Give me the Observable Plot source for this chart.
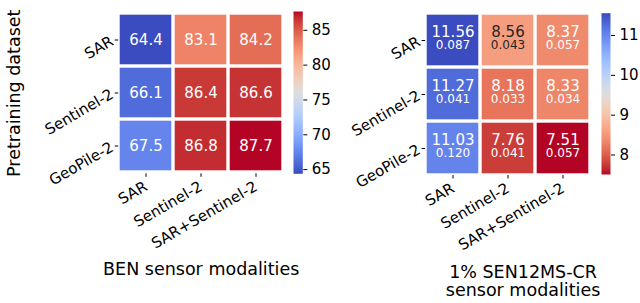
<!DOCTYPE html>
<html><head><meta charset="utf-8">
<script src="https://cdn.jsdelivr.net/npm/d3@7"></script>
<script src="https://cdn.jsdelivr.net/npm/@observablehq/plot@0.6"></script>
<style>
html,body{margin:0;padding:0;background:white;}
#root{position:relative;width:640px;height:303px;overflow:hidden;font-family:"DejaVu Sans";}
#root svg{position:absolute;left:0;top:0;}
</style></head><body><div id="root"></div>
<script>
// ---- data ----
const pretrainDatasets = ["SAR", "Sentinel-2", "GeoPile-2"];
const sensorModalities = ["SAR", "Sentinel-2", "SAR+Sentinel-2"];
const benScores = [[64.4, 83.1, 84.2], [66.1, 86.4, 86.6], [67.5, 86.8, 87.7]];
const senMeans = [[11.56, 8.56, 8.37], [11.27, 8.18, 8.33], [11.03, 7.76, 7.51]];
const senStds = [[0.087, 0.043, 0.057], [0.041, 0.033, 0.034], [0.120, 0.041, 0.057]];
const benTicks = [65, 70, 75, 80, 85];
const senTicks = [8, 9, 10, 11];
const benLabel = "BEN sensor modalities";
const senLabel = "1% SEN12MS-CR\nsensor modalities";
const yLabel = "Pretraining dataset";
// matplotlib "coolwarm" control colours
const coolwarmStops = [
  [59,76,192],[68,90,204],[77,104,215],[87,117,225],[98,130,234],[108,142,241],[119,154,247],[130,165,251],
  [141,176,254],[152,185,255],[163,194,255],[174,201,253],[184,208,249],[194,213,244],[204,217,238],[213,219,230],
  [221,221,221],[229,216,209],[236,211,197],[241,204,184],[245,196,172],[247,187,160],[247,177,148],[247,166,135],
  [244,154,123],[241,141,112],[236,127,99],[229,112,88],[222,96,77],[213,80,66],[203,62,56],[192,40,47],[180,4,38]
];

const cw = d3.piecewise(d3.interpolateRgb, coolwarmStops.map(c => `rgb(${c[0]},${c[1]},${c[2]})`));
const cwR = t => cw(1 - t);
function lum(color) {
  const c = d3.rgb(color);
  const f = v => { v /= 255; return v <= 0.03928 ? v / 12.92 : Math.pow((v + 0.055) / 1.055, 2.4); };
  return 0.2126 * f(c.r) + 0.7152 * f(c.g) + 0.0722 * f(c.b);
}
const ben = pretrainDatasets.flatMap((r, i) => sensorModalities.map((c, j) => ({row: r, col: c, value: benScores[i][j]})));
const sen = pretrainDatasets.flatMap((r, i) => sensorModalities.map((c, j) => ({row: r, col: c, value: senMeans[i][j], std: senStds[i][j]})));
const benMin = d3.min(ben, d => d.value), benMax = d3.max(ben, d => d.value);
const senMin = d3.min(sen, d => d.value), senMax = d3.max(sen, d => d.value);
ben.forEach(d => d.dark = lum(cw((d.value - benMin) / (benMax - benMin))) > 0.408);
sen.forEach(d => d.dark = lum(cwR((d.value - senMin) / (senMax - senMin))) > 0.408);

const FONT = "DejaVu Sans";
const common = {width: 640, height: 303, style: {background: "transparent", fontFamily: FONT, fontSize: "15px", color: "black"}};
const WHITE = "white", DARK = "#262626";

const benPlot = Plot.plot({
  ...common,
  marginLeft: 118.2, marginRight: 356.8, marginTop: 12.2, marginBottom: 129.7,
  x: {type: "band", domain: sensorModalities, padding: 0},
  y: {type: "band", domain: pretrainDatasets, padding: 0},
  color: {type: "linear", domain: [benMin, benMax], interpolate: cw},
  marks: [
    Plot.cell(ben, {x: "col", y: "row", fill: "value", inset: 1.7}),
    Plot.text(ben.filter(d => !d.dark), {x: "col", y: "row", text: d => d.value.toFixed(1), fill: WHITE, fontSize: 15}),
    Plot.text(ben.filter(d => d.dark), {x: "col", y: "row", text: d => d.value.toFixed(1), fill: DARK, fontSize: 15}),
    Plot.axisX({tickRotate: -30, tickSize: 3.5, tickPadding: 8, label: null, fontSize: 15}),
    Plot.axisY({tickRotate: -30, tickSize: 3.5, tickPadding: 3, label: null, fontSize: 15}),
    Plot.text([benLabel], {text: d => d, frameAnchor: "bottom", textAnchor: "middle", lineAnchor: "middle", dy: 95.3, fontSize: 17.5}),
    Plot.text([yLabel], {text: d => d, frameAnchor: "left", textAnchor: "middle", lineAnchor: "middle", rotate: -90, dx: -104.6, fontSize: 17.5})
  ]
});

const benBar = Plot.plot({
  ...common,
  marginLeft: 293, marginRight: 337.7, marginTop: 11, marginBottom: 129.7,
  x: {domain: [0, 1], axis: null},
  y: {domain: [benMin, benMax]},
  color: {type: "linear", domain: [benMin, benMax], interpolate: cw},
  marks: [
    Plot.raster({fill: (x, y) => y, x1: 0, x2: 1, y1: benMin, y2: benMax}),
    Plot.axisY({anchor: "right", ticks: benTicks, tickFormat: "d", tickSize: 4, tickPadding: 5, label: null, fontSize: 15})
  ]
});

const senPlot = Plot.plot({
  ...common,
  marginLeft: 425.1, marginRight: 49.2, marginTop: 12.3, marginBottom: 128,
  x: {type: "band", domain: sensorModalities, padding: 0},
  y: {type: "band", domain: pretrainDatasets, padding: 0},
  color: {type: "linear", domain: [senMin, senMax], interpolate: cwR},
  marks: [
    Plot.cell(sen, {x: "col", y: "row", fill: "value", inset: 1.7}),
    Plot.text(sen.filter(d => !d.dark), {x: "col", y: "row", text: d => d.value.toFixed(2), fill: WHITE, fontSize: 15, dy: -8.0}),
    Plot.text(sen.filter(d => d.dark), {x: "col", y: "row", text: d => d.value.toFixed(2), fill: DARK, fontSize: 15, dy: -8.0}),
    Plot.text(sen.filter(d => !d.dark), {x: "col", y: "row", text: d => d.std.toFixed(3), fill: WHITE, fontSize: 12, dy: 4.9}),
    Plot.text(sen.filter(d => d.dark), {x: "col", y: "row", text: d => d.std.toFixed(3), fill: DARK, fontSize: 12, dy: 4.9}),
    Plot.axisX({tickRotate: -30, tickSize: 3.5, tickPadding: 8, label: null, fontSize: 15}),
    Plot.axisY({tickRotate: -30, tickSize: 3.5, tickPadding: 3, label: null, fontSize: 15}),
    Plot.text([senLabel], {text: d => d, frameAnchor: "bottom", textAnchor: "middle", lineAnchor: "middle", dx: 14.6, dy: 105.75, fontSize: 17.5, lineHeight: 1.057})
  ]
});

const senBar = Plot.plot({
  ...common,
  marginLeft: 601, marginRight: 30, marginTop: 12.7, marginBottom: 129,
  x: {domain: [0, 1], axis: null},
  y: {domain: [senMin, senMax]},
  color: {type: "linear", domain: [senMin, senMax], interpolate: cwR},
  marks: [
    Plot.raster({fill: (x, y) => y, x1: 0, x2: 1, y1: senMin, y2: senMax}),
    Plot.axisY({anchor: "right", ticks: senTicks, tickFormat: "d", tickSize: 4, tickPadding: 5, label: null, fontSize: 15})
  ]
});

const root = document.getElementById("root");
[benPlot, benBar, senPlot, senBar].forEach(p => root.appendChild(p));
</script></body></html>
